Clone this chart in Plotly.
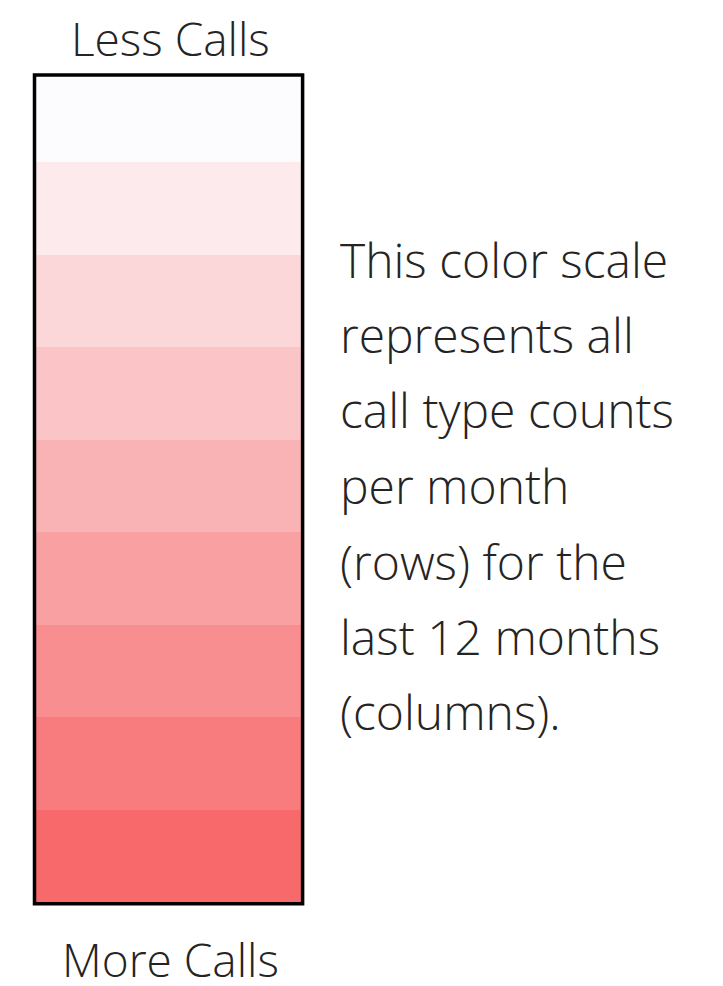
import plotly.graph_objects as go

# ---- data ----
band_levels = [0, 1, 2, 3, 4, 5, 6, 7, 8]          # 0 = less calls (top) ... 8 = more calls (bottom)
band_colors = ["#FCFCFF", "#FCEAEC", "#FBD7DA", "#FBC5C8", "#FAB3B5",
               "#F9A0A3", "#F98E90", "#F87B7E", "#F8696B"]
top_label = "Less Calls"
bottom_label = "More Calls"
note_lines = ["This color scale", "represents all", "call type counts",
              "per month", "(rows) for the", "last 12 months", "(columns)."]

# the page body has an 8px margin, so the figure sits at (8, 8) in the window
OFF = 8
W, H = 723 - 2 * OFF, 986 - 2 * OFF
FONT = "Open Sans"
FS = 48
FS_LABEL = 46
TXT = "#252423"

def px(x):
    return (x - OFF) / W

def py(y):
    return 1 - (y - OFF) / H

n = len(band_levels)
colorscale = [[lvl / (n - 1), c] for lvl, c in zip(band_levels, band_colors)]

fig = go.Figure(go.Heatmap(
    z=[[v] for v in band_levels],
    y=band_levels,
    x=[0],
    colorscale=colorscale,
    zmin=band_levels[0], zmax=band_levels[-1],
    showscale=False,
    hoverinfo="skip",
))

fig.update_layout(
    width=W, height=H,
    margin=dict(l=0, r=0, t=0, b=0),
    paper_bgcolor="white", plot_bgcolor="white",
    xaxis=dict(domain=[px(36), px(302)], range=[-0.5, 0.5], visible=False, fixedrange=True),
    yaxis=dict(domain=[py(903), py(76)], range=[8.504, -0.429], visible=False, fixedrange=True),
    showlegend=False,
)

# border
fig.add_shape(type="rect", xref="paper", yref="paper",
              x0=px(34.5), x1=px(302.6), y0=py(903.8), y1=py(74.9),
              line=dict(color="black", width=3.5), fillcolor="rgba(0,0,0,0)", layer="above")

def mid(baseline, fs):
    return baseline - 0.38 * fs

font = dict(family=FONT, size=FS, color=TXT, weight=300)
label_font = dict(family=FONT, size=FS_LABEL, color=TXT, weight=300)

fig.add_annotation(text=top_label, xref="paper", yref="paper", x=px(170), y=py(mid(55, FS_LABEL)),
                   xanchor="center", yanchor="middle", showarrow=False, font=label_font)
fig.add_annotation(text=bottom_label, xref="paper", yref="paper", x=px(170), y=py(mid(976, FS_LABEL)),
                   xanchor="center", yanchor="middle", showarrow=False, font=label_font)

baselines = [278, 353, 428, 504, 580, 655, 730]
for line, b in zip(note_lines, baselines):
    fig.add_annotation(text=line, xref="paper", yref="paper", x=px(338), y=py(mid(b, FS)),
                       xanchor="left", yanchor="middle", showarrow=False, font=font)

fig.write_html("out.html")
